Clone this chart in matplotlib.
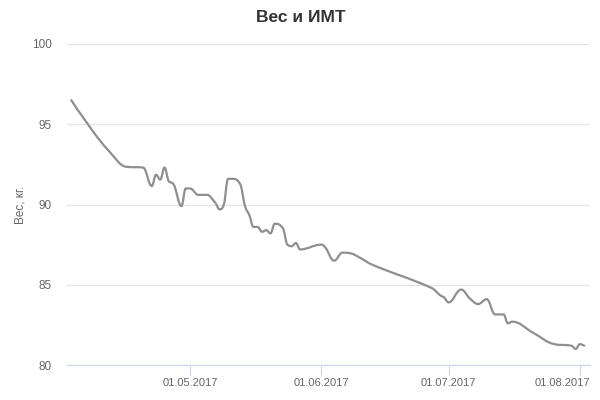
import matplotlib
matplotlib.use("Agg")
import matplotlib.pyplot as plt
import matplotlib.dates as mdates
import matplotlib.transforms as mtransforms
from matplotlib.path import Path
from matplotlib.patches import PathPatch
import numpy as np
import datetime as dt

plt.rcParams['font.family'] = ['Liberation Sans', 'DejaVu Sans']

# weight readings (date, kg)
dates = ["2017-04-03", "2017-04-08", "2017-04-12", "2017-04-16", "2017-04-20",
         "2017-04-22", "2017-04-23", "2017-04-24", "2017-04-25", "2017-04-26",
         "2017-04-27", "2017-04-29", "2017-04-30", "2017-05-01", "2017-05-03",
         "2017-05-05", "2017-05-07", "2017-05-08", "2017-05-09", "2017-05-10",
         "2017-05-11", "2017-05-13", "2017-05-14", "2017-05-15", "2017-05-16",
         "2017-05-17", "2017-05-18", "2017-05-19", "2017-05-20", "2017-05-21",
         "2017-05-23", "2017-05-24", "2017-05-25", "2017-05-26", "2017-05-27",
         "2017-06-01", "2017-06-02", "2017-06-04", "2017-06-06", "2017-06-08",
         "2017-06-10", "2017-06-13", "2017-06-27", "2017-06-29", "2017-06-30",
         "2017-07-01", "2017-07-04", "2017-07-06", "2017-07-08", "2017-07-10",
         "2017-07-12", "2017-07-14", "2017-07-15", "2017-07-16", "2017-07-21",
         "2017-07-26", "2017-07-30", "2017-07-31", "2017-08-01", "2017-08-02"]
weights = [96.5, 94.6, 93.3, 92.35, 92.3,
           91.15, 91.85, 91.55, 92.3, 91.45,
           91.3, 89.9, 91.0, 91.0, 90.6,
           90.6, 90.1, 89.7, 90.0, 91.6,
           91.6, 91.2, 89.9, 89.35, 88.6,
           88.6, 88.3, 88.4, 88.2, 88.8,
           88.5, 87.5, 87.4, 87.6, 87.2,
           87.5, 87.3, 86.5, 87.0, 86.95,
           86.7, 86.25, 84.8, 84.35, 84.2,
           83.9, 84.7, 84.15, 83.8, 84.1,
           83.15, 83.15, 82.6, 82.7, 82.0,
           81.3, 81.2, 81.0, 81.3, 81.2]

tick_dates = ["2017-05-01", "2017-06-01", "2017-07-01", "2017-08-01"]
tick_labels = ["01.05.2017", "01.06.2017", "01.07.2017", "01.08.2017"]


def spline_path(xs, ys, smoothing=1.5):
    # cubic bezier spline through the points, highcharts style
    n = len(xs)
    left = [(xs[i], ys[i]) for i in range(n)]
    right = [(xs[i], ys[i]) for i in range(n)]
    for i in range(1, n - 1):
        x, y = xs[i], ys[i]
        lx, ly = xs[i - 1], ys[i - 1]
        nx, ny = xs[i + 1], ys[i + 1]
        d = smoothing + 1
        lcx = (smoothing * x + lx) / d
        lcy = (smoothing * y + ly) / d
        rcx = (smoothing * x + nx) / d
        rcy = (smoothing * y + ny) / d
        corr = 0
        if rcx != lcx:
            corr = (rcy - lcy) * (rcx - x) / (rcx - lcx) + y - rcy
        lcy += corr
        rcy += corr
        if lcy > ly and lcy > y:
            lcy = max(ly, y)
            rcy = 2 * y - lcy
        elif lcy < ly and lcy < y:
            lcy = min(ly, y)
            rcy = 2 * y - lcy
        if rcy > ny and rcy > y:
            rcy = max(ny, y)
            lcy = 2 * y - rcy
        elif rcy < ny and rcy < y:
            rcy = min(ny, y)
            lcy = 2 * y - rcy
        left[i] = (lcx, lcy)
        right[i] = (rcx, rcy)
    verts = [(xs[0], ys[0])]
    codes = [Path.MOVETO]
    for i in range(1, n):
        verts += [right[i - 1], left[i], (xs[i], ys[i])]
        codes += [Path.CURVE4] * 3
    return Path(verts, codes)


x = mdates.date2num([dt.datetime.strptime(d, "%Y-%m-%d") for d in dates])
y = np.array(weights)

fig = plt.figure(figsize=(6, 4), dpi=100)
ax = fig.add_axes([67 / 600, 1 - 365 / 400, 523 / 600, 321 / 400])

ax.add_patch(PathPatch(spline_path(list(x), list(y)), fill=False,
                       edgecolor='#8f8f8f', lw=1.6, capstyle='round', joinstyle='round'))

ax.set_xlim(mdates.date2num(dt.datetime(2017, 4, 2)),
            mdates.date2num(dt.datetime(2017, 8, 3, 9)))
ax.set_ylim(80, 100)
ax.set_yticks([80, 85, 90, 95, 100])
ax.set_xticks(mdates.date2num([dt.datetime.strptime(d, "%Y-%m-%d") for d in tick_dates]))
ax.set_xticklabels(tick_labels)

ax.grid(axis='y', color='#e6e6e6', lw=1)
ax.set_axisbelow(True)
for s in ['top', 'right', 'left']:
    ax.spines[s].set_visible(False)
ax.spines['bottom'].set_color('#ccd6eb')
ax.tick_params(axis='y', length=0, pad=11, labelsize=8.5, labelcolor='#666666')
ax.tick_params(axis='x', length=7, color='#ccd6eb', pad=2, labelsize=8, labelcolor='#666666')

# last date label is pushed left so it stays inside the chart
last = ax.get_xticklabels()[-1]
last.set_transform(last.get_transform() +
                   mtransforms.ScaledTranslation(-18 / 100, 0, fig.dpi_scale_trans))

ax.set_ylabel("Вес, кг.", fontsize=8.5, color='#666666')
ax.yaxis.set_label_coords(-0.077, 0.5)

fig.text(0.502, 1 - 18 / 400, "Вес и ИМТ", ha='center', va='center',
         fontsize=12.5, fontweight='bold', color='#333333')

fig.savefig("out.png", dpi=100)
